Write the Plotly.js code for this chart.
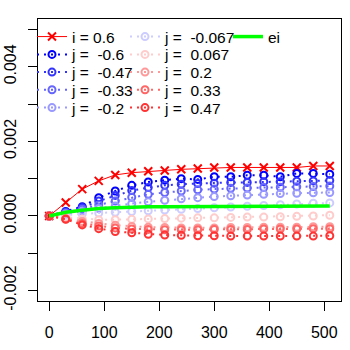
<!DOCTYPE html>
<html>
<head>
<meta charset="utf-8">
<script src="https://cdn.plot.ly/plotly-3.0.1.min.js"></script>
<style>html,body{margin:0;padding:0;background:#fff}#chart{width:350px;height:350px}</style>
</head>
<body>
<div id="chart"></div>
<script>
var xVals = [0, 30, 60, 90, 120, 150, 180, 210, 240, 270, 300, 330, 360, 390, 420, 450, 480, 510];

var iSeries = [0, 0.00036, 0.00072, 0.00094, 0.0011, 0.00116, 0.0012, 0.00122, 0.00125, 0.00127, 0.0013, 0.0013, 0.0013, 0.0013, 0.0013, 0.0013, 0.00134, 0.00134];

var jLabels = ["-0.6", "-0.47", "-0.33", "-0.2", "-0.067", "0.067", "0.2", "0.33", "0.47"];
var jM060 = [0, 0.00012, 0.00025, 0.00049, 0.00067, 0.00082, 0.00091, 0.00096, 0.001, 0.00098, 0.00105, 0.00105, 0.00109, 0.00109, 0.00105, 0.00114, 0.00114, 0.00112];
var jM047 = [0, 0.0001, 0.00022, 0.0004, 0.00055, 0.00068, 0.00076, 0.00082, 0.00085, 0.00087, 0.00088, 0.0009, 0.0009, 0.00092, 0.00092, 0.00093, 0.00094, 0.00095];
var jM033 = [0, 0.00008, 0.00018, 0.0003, 0.0004, 0.0005, 0.00058, 0.00063, 0.00067, 0.0007, 0.00072, 0.00074, 0.00075, 0.00076, 0.00077, 0.00078, 0.00079, 0.0008];
var jM020 = [0, 0.00005, 0.00012, 0.0002, 0.00027, 0.00033, 0.00038, 0.00042, 0.00046, 0.00049, 0.00052, 0.00054, 0.00056, 0.00058, 0.0006, 0.00061, 0.00062, 0.00063];
var jM007 = [0, 0.00002, 0.00005, 0.00008, 0.0001, 0.00012, 0.00014, 0.00016, 0.00018, 0.0002, 0.00022, 0.00024, 0.00026, 0.00028, 0.0003, 0.00032, 0.00034, 0.00035];
var jP007 = [0, -0.00004, -0.00008, -0.0001, -0.0001, -0.00009, -0.00008, -0.00007, -0.00006, -0.00005, -0.00005, -0.00004, -0.00003, -0.00003, -0.00002, -0.00001, 0, 0.00002];
var jP020 = [0, -0.00007, -0.00015, -0.0002, -0.00025, -0.00028, -0.0003, -0.00031, -0.00032, -0.00032, -0.00032, -0.00031, -0.00031, -0.0003, -0.0003, -0.0003, -0.00029, -0.00029];
var jP033 = [0, -0.00008, -0.0002, -0.00027, -0.00032, -0.00035, -0.00036, -0.00037, -0.00037, -0.00037, -0.00036, -0.00036, -0.00036, -0.00035, -0.00035, -0.00035, -0.00034, -0.00034];
var jP047 = [0, -0.00009, -0.00024, -0.00034, -0.00042, -0.00045, -0.00049, -0.00051, -0.00052, -0.00053, -0.00053, -0.00054, -0.00054, -0.00054, -0.00054, -0.00054, -0.00054, -0.00053];

var eiSeries = [0, 0.0001, 0.00015, 0.0002, 0.00022, 0.00024, 0.00025, 0.00025, 0.00025, 0.00025, 0.00026, 0.00026, 0.00026, 0.00026, 0.00027, 0.00027, 0.00027, 0.00027];

var yTickVals = [-0.002, -0.001, 0, 0.001, 0.002, 0.003, 0.004, 0.005];
var yTickText = ["-0.002", "", "0.000", "", "0.002", "", "0.004", ""];
var xTickVals = [0, 100, 200, 300, 400, 500];

var jData = [jM060, jM047, jM033, jM020, jM007, jP007, jP020, jP033, jP047];
var jColors = ["rgb(0,0,255)", "rgb(51,51,255)", "rgb(102,102,255)", "rgb(153,153,255)", "rgb(204,204,255)",
               "rgb(255,204,204)", "rgb(255,153,153)", "rgb(255,102,102)", "rgb(255,51,51)"];

// legend cell positions (px)
var L = 38, R = 341, T = 19, B = 301;
function px2x(p){ return (p - L) / (R - L); }
function py2y(p){ return 1 - (p - T) / (B - T); }
var colText = [72, 165, 268];
var rowY = [37, 54.8, 72.5, 90.2, 108];

var traces = [];
var legendIds = [];
function nextLegend(col, row){
  var n = legendIds.length + 1;
  var id = n === 1 ? "legend" : "legend" + n;
  legendIds.push({id: id, col: col, row: row});
  return id;
}

traces.push({
  x: xVals, y: iSeries, type: "scatter", mode: "lines+markers", name: "i = 0.6",
  line: {color: "rgb(255,0,0)", width: 1},
  marker: {symbol: "x-thin-open", size: 8, color: "rgb(255,0,0)", line: {color: "rgb(255,0,0)", width: 2}},
  legend: nextLegend(0, 0)
});

for (var k = 0; k < jData.length; k++) {
  var col = k < 4 ? 0 : 1;
  var row = k < 4 ? k + 1 : k - 4;
  traces.push({
    x: xVals, y: jData[k], type: "scatter", mode: "lines+markers",
    name: "j = \u00a0" + jLabels[k],
    line: {color: jColors[k], width: 2, dash: "2px,5px"},
    marker: {symbol: "circle-open", size: 7, color: jColors[k], line: {color: jColors[k], width: 2}},
    legend: nextLegend(col, row)
  });
}

traces.push({
  x: xVals, y: eiSeries, type: "scatter", mode: "lines", name: "ei",
  line: {color: "rgb(0,255,0)", width: 3.5},
  legend: nextLegend(2, 0)
});

var layout = {
  width: 350, height: 350,
  margin: {l: L, r: 350 - R, t: T, b: 350 - B, pad: 0},
  paper_bgcolor: "#fff", plot_bgcolor: "#fff",
  font: {family: "Liberation Sans, Arial, sans-serif", size: 16, color: "#000"},
  showlegend: true,
  xaxis: {
    range: [-20.4, 530.4], tickmode: "array", tickvals: xTickVals,
    showgrid: false, zeroline: false, showline: true, mirror: true, linecolor: "#000", linewidth: 1,
    ticks: "outside", ticklen: 9, tickwidth: 1, tickcolor: "#000", ticklabelstandoff: 8,
    tickfont: {size: 16}
  },
  yaxis: {
    range: [-0.00228, 0.00528], tickmode: "array", tickvals: yTickVals, ticktext: yTickText,
    showgrid: false, zeroline: false, showline: true, mirror: true, linecolor: "#000", linewidth: 1,
    ticks: "outside", ticklen: 9, tickwidth: 1, tickcolor: "#000", tickangle: -90, ticklabelstandoff: 6,
    tickfont: {size: 16}
  }
};

legendIds.forEach(function(l){
  layout[l.id] = {
    x: px2x(colText[l.col] - 40), y: py2y(rowY[l.row]),
    xanchor: "left", yanchor: "middle",
    bgcolor: "rgba(0,0,0,0)", borderwidth: 0,
    font: {size: 15.5, color: "#000"}, itemwidth: 30
  };
});

Plotly.newPlot("chart", traces, layout, {staticPlot: true});
</script>
</body>
</html>
